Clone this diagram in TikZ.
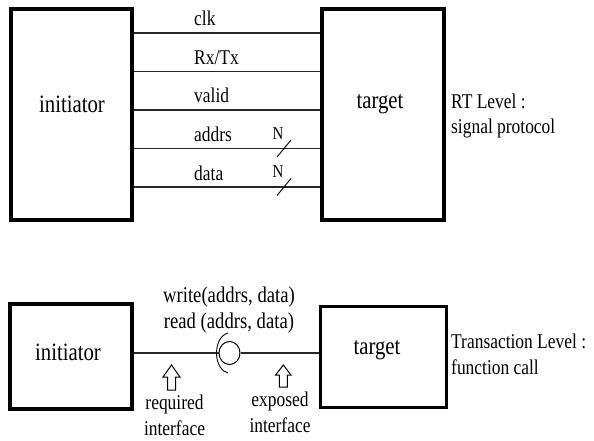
\documentclass[tikz,border=0pt]{standalone}
\usepackage{fontspec}
\usetikzlibrary{shapes.geometric}
\setmainfont{Liberation Serif}[FakeStretch=0.83]
\begin{document}
\begin{tikzpicture}[x=1pt,y=-1pt,
  box/.style={draw,line width=3.5pt,inner sep=0pt},
  wire/.style={line width=1.4pt,draw=black!85},
  lbl/.style={font=\fontsize{21}{26}\selectfont,inner sep=0pt},
  fn/.style={font=\fontsize{22.5}{27}\selectfont,inner sep=0pt},
  big/.style={font=\fontsize{25}{29}\selectfont,inner sep=0pt},
  small/.style={font=\fontsize{18}{20}\selectfont,inner sep=0pt},
  hollow/.style={draw,line width=1pt,fill=white,line join=miter}]
\useasboundingbox (0,0) rectangle (594,441);
% ---------- RT level ----------
\node[box,minimum width=121pt,minimum height=211pt] (i1) at (71.5,114.5) {};
\node[box,minimum width=122pt,minimum height=211pt] (t1) at (383,114.5) {};
\node[big] (i1l) at (72,104) {initiator};
\node[big] (t1l) at (380,104) {target};
\foreach \n/\y/\t in {a/33/clk,b/71.5/{Rx/Tx},c/110/valid,d/148.5/addrs,e/187/data}{
  \coordinate (L\n) at (i1.east |- 0,\y);
  \coordinate (R\n) at (t1.west |- 0,\y);
  \draw[wire] (L\n) -- (R\n);
  \node[lbl,anchor=base west] (T\n) at (194,\y-7) {\t};
}
\foreach \n/\y in {d/148.5,e/187}{
  \node[small] (N\n) at (278,\y-15) {N};
  \coordinate (S\n a) at (277,\y+8.5);
  \coordinate (S\n b) at (291,\y-8.5);
  \draw[line width=0.9pt] (S\n a) -- (S\n b);
}
\node[lbl,anchor=west] (rt1) at (451,101) {RT Level :};
\node[lbl,anchor=west] (rt2) at (451,128) {signal protocol};
% ---------- Transaction level ----------
\node[box,minimum width=122pt,minimum height=105pt] (i2) at (71,356.5) {};
\node[box,line width=3pt,minimum width=126pt,minimum height=101pt] (t2) at (383,356.5) {};
\node[big] (i2l) at (68,352) {initiator};
\node[big] (t2l) at (377,350) {target};
\node[draw,line width=1pt,ellipse,minimum width=21pt,minimum height=23pt,inner sep=0pt] (ball) at (229.5,353) {};
\draw[line width=0.9pt] (ball.center) ++(97:13pt and 20pt) arc[start angle=97,end angle=263,x radius=13pt,y radius=20pt];
\draw[wire] (i2.east |- ball.west) -- (ball.west);
\draw[wire] (ball.east) -- (t2.west |- ball.east);
\node[fn] (w) at (229,297) {write(addrs, data)};
\node[fn] (r) at (229,323) {read (addrs, data)};
% hollow arrows
\draw[hollow] (171.5,365) -- (180,377) -- (175.5,377) -- (175.5,390) -- (167.5,390) -- (167.5,377) -- (163,377) -- cycle;
\draw[hollow] (283.3,365) -- (291,375) -- (287.3,375) -- (287.3,387) -- (279.3,387) -- (279.3,375) -- (275.6,375) -- cycle;
\node[lbl,align=center] (req) at (174.5,415.5) {required\\interface};
\node[lbl,align=center] (exp) at (280,412.5) {exposed\\interface};
\node[lbl,anchor=west] (tl1) at (451,341) {Transaction Level :};
\node[lbl,anchor=west] (tl2) at (451,367) {function call};
\end{tikzpicture}
\end{document}
